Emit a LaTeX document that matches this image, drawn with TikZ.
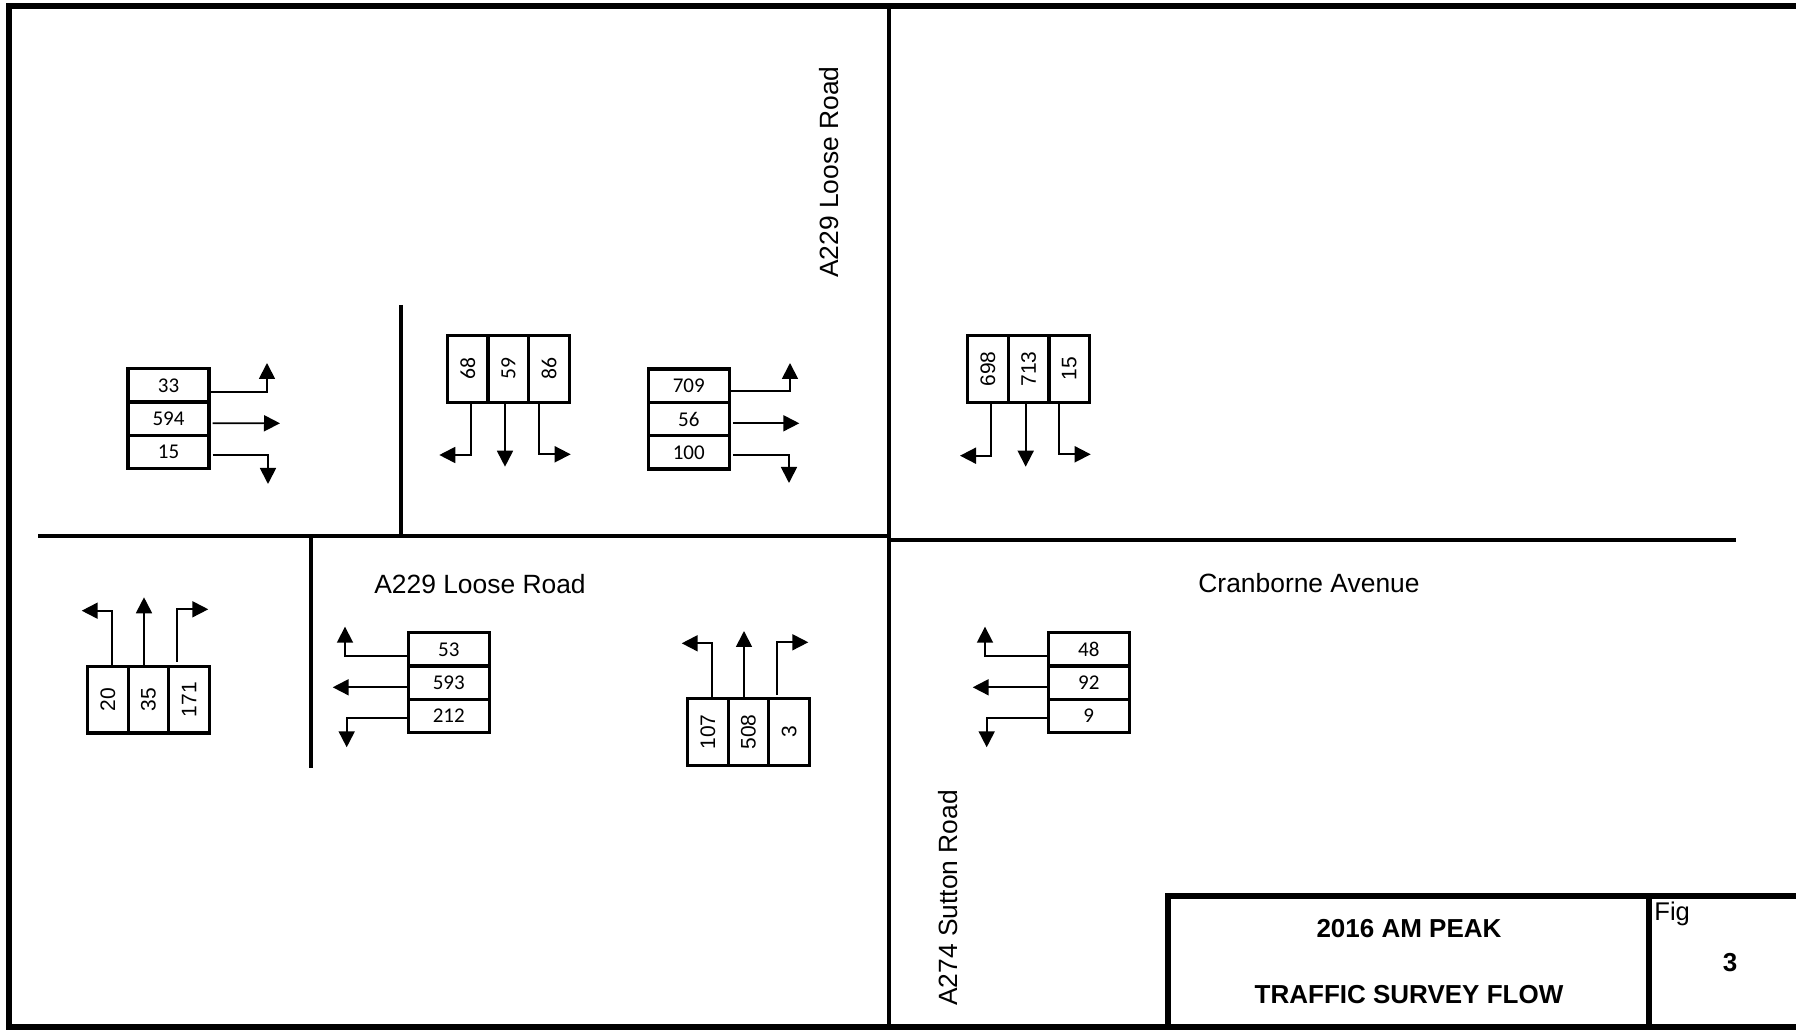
\documentclass[tikz,border=0pt]{standalone}
\usepackage{fontspec}
\usepackage{graphicx}
\setmainfont{Liberation Sans}
\newfontfamily\calib{Carlito}
\usetikzlibrary{arrows.meta}
\begin{document}
\begin{tikzpicture}[x=0.5pt,y=-0.5pt,
  frame/.style={line width=2.8pt},
  road/.style={line width=2.4pt},
  cell/.style={draw,line width=1.6pt,minimum width=40.5pt,minimum height=16.65pt,inner sep=0pt,font=\calib\fontsize{10.5}{12}\selectfont},
  vcell/.style={draw,line width=1.6pt,minimum width=20.35pt,minimum height=33.3pt,inner sep=0pt,font=\fontsize{10.5}{12}\selectfont},
  vcalib/.style={vcell,font=\calib\fontsize{10.8}{12}\selectfont},
  arr/.style={line width=0.9pt,-{Triangle[length=8pt,width=8pt]}},
  lbl/.style={inner sep=0pt,font=\fontsize{13.2}{15}\selectfont},
  ttl/.style={inner sep=0pt,font=\bfseries\fontsize{13}{15}\selectfont}]
\useasboundingbox (0,0) rectangle (1796,1031);
% frame and roads
\draw[frame] (1796,6) -- (9,6) -- (9,1027) -- (1796,1027);
\draw[road] (889,6) -- (889,1027);
\draw[road] (38,536) -- (889,536);
\draw[road] (889,540) -- (1736,540);
\draw[road] (401,305) -- (401,536);
\draw[road] (311,538) -- (311,768);
% title block
\draw[frame] (1168,1027) -- (1168,896) -- (1796,896);
\draw[frame] (1649,896) -- (1649,1027);
\node[ttl] (t1) at (1409,929) {2016 AM PEAK};
\node[ttl] (t2) at (1409,995) {TRAFFIC SURVEY FLOW};
\node[lbl,anchor=north west,font=\fontsize{12.8}{15}\selectfont] (fig) at (1654,902) {Fig};
\node[ttl] (fign) at (1730,963) {3};
% road labels
\node[lbl,rotate=90] (l1) at (829,172) {A229 Loose Road};
\node[lbl] (l2) at (480,584) {A229 Loose Road};
\node[lbl] (l3) at (1309,583) {Cranborne Avenue};
\node[lbl,rotate=90] (l4) at (948.5,898) {A274 Sutton Road};
% tips
\coordinate (t1a) at (267,363); \coordinate (t1b) at (280,423.3); \coordinate (t1c) at (268,484);
\coordinate (t3a) at (790,363); \coordinate (t3b) at (799.3,423.3); \coordinate (t3c) at (789,483);
\coordinate (t2a) at (439.3,455); \coordinate (t2b) at (505,466.7); \coordinate (t2c) at (570.7,454.3);
\coordinate (t4a) at (960,455.7); \coordinate (t4b) at (1025.7,466.7); \coordinate (t4c) at (1090.7,454.3);
\coordinate (t5a) at (81.7,610.7); \coordinate (t5b) at (144,597.3); \coordinate (t5c) at (208.3,609.3);
\coordinate (t7a) at (681.7,643.3); \coordinate (t7b) at (744,631); \coordinate (t7c) at (808.3,642.3);
\coordinate (t6a) at (345,626.7); \coordinate (t6b) at (332.7,687.3); \coordinate (t6c) at (346.7,747.3);
\coordinate (t8a) at (985,626.7); \coordinate (t8b) at (972.7,687.3); \coordinate (t8c) at (986.7,747.3);
% box 1
\node[cell] (b1a) at (168.5,385.3) {33};
\node[cell] (b1b) at (168.5,418.6) {594};
\node[cell] (b1c) at (168.5,451.9) {15};
\draw[arr] ([yshift=-3.2pt]b1a.east) -| (t1a);
\draw[arr] ([yshift=-2.3pt,xshift=1pt]b1b.east) -- (t1b);
\draw[arr] ([yshift=-1.5pt,xshift=1pt]b1c.east) -| (t1c);
% box 3
\node[cell] (b3a) at (688.8,385.6) {709};
\node[cell] (b3b) at (688.8,419) {56};
\node[cell] (b3c) at (688.8,452.3) {100};
\draw[arr] ([yshift=-2.7pt]b3a.east) -| (t3a);
\draw[arr] ([yshift=-2.15pt,xshift=1pt]b3b.east) -- (t3b);
\draw[arr] ([yshift=-1.35pt,xshift=1pt]b3c.east) -| (t3c);
% box 2
\node[vcalib] (b2a) at (467.8,369) {\rotatebox{90}{68}};
\node[vcalib] (b2b) at (508.4,369) {\rotatebox{90}{59}};
\node[vcalib] (b2c) at (549,369) {\rotatebox{90}{86}};
\draw[arr] ([xshift=1.45pt]b2a.south) |- (t2a);
\draw[arr] ([xshift=-1.7pt]b2b.south) -- (t2b);
\draw[arr] ([xshift=-5pt,yshift=1.5pt]b2c.south) |- (t2c);
% box 4
\node[vcell] (b4a) at (988,369) {\rotatebox{90}{698}};
\node[vcell] (b4b) at (1028.7,369) {\rotatebox{90}{713}};
\node[vcell] (b4c) at (1069.3,369) {\rotatebox{90}{15}};
\draw[arr] ([xshift=1.5pt]b4a.south) |- (t4a);
\draw[arr] ([xshift=-1.5pt]b4b.south) -- (t4b);
\draw[arr] ([xshift=-5.15pt,yshift=1.5pt]b4c.south) |- (t4c);
% box 5
\node[vcell] (b5a) at (107.8,699.7) {\rotatebox{90}{20}};
\node[vcell] (b5b) at (148.5,699.7) {\rotatebox{90}{35}};
\node[vcell] (b5c) at (189.2,699.7) {\rotatebox{90}{171}};
\draw[arr] ([xshift=1.95pt]b5a.north) |- (t5a);
\draw[arr] ([xshift=-2.25pt]b5b.north) -- (t5b);
\draw[arr] ([xshift=-5.95pt,yshift=1.5pt]b5c.north) |- (t5c);
% box 7
\node[vcell] (b7a) at (707.8,732) {\rotatebox{90}{107}};
\node[vcell] (b7b) at (748.5,732) {\rotatebox{90}{508}};
\node[vcell] (b7c) at (789.2,732) {\rotatebox{90}{3}};
\draw[arr] ([xshift=1.95pt]b7a.north) |- (t7a);
\draw[arr] ([xshift=-2.25pt]b7b.north) -- (t7b);
\draw[arr] ([xshift=-5.95pt,yshift=1pt]b7c.north) |- (t7c);
% box 6
\node[cell] (b6a) at (448.8,649.3) {53};
\node[cell] (b6b) at (448.8,682.7) {593};
\node[cell] (b6c) at (448.8,716) {212};
\draw[arr] ([yshift=-3.2pt]b6a.west) -| (t6a);
\draw[arr] ([yshift=-2.3pt]b6b.west) -- (t6b);
\draw[arr] ([yshift=-1.15pt]b6c.west) -| (t6c);
% box 8
\node[cell] (b8a) at (1088.8,649.3) {48};
\node[cell] (b8b) at (1088.8,682.7) {92};
\node[cell] (b8c) at (1088.8,716) {9};
\draw[arr] ([yshift=-3.2pt]b8a.west) -| (t8a);
\draw[arr] ([yshift=-2.3pt]b8b.west) -- (t8b);
\draw[arr] ([yshift=-1.15pt]b8c.west) -| (t8c);
\end{tikzpicture}
\end{document}
